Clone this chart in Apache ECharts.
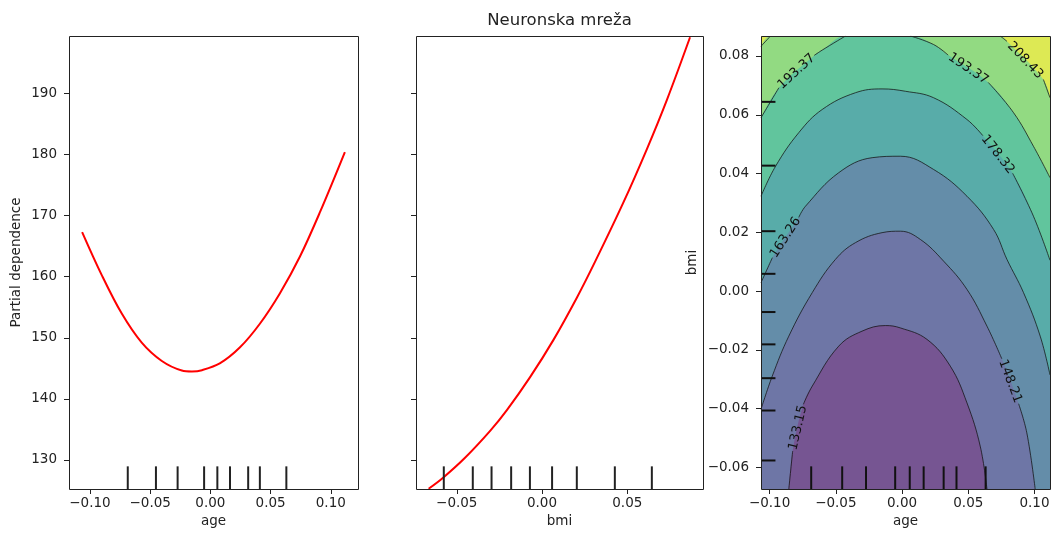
<!DOCTYPE html>
<html><head><meta charset="utf-8">
<script src="https://cdn.jsdelivr.net/npm/echarts@6/dist/echarts.min.js"></script>
<style>html,body{margin:0;padding:0;background:#fff}#c{width:1053px;height:533px}</style>
</head><body><div id="c"></div>
<script>
// ---------------- data ----------------
const ageTicks = [-0.10, -0.05, 0.00, 0.05, 0.10];
const bmiTicks = [-0.05, 0.00, 0.05];
const pdTicks = [130, 140, 150, 160, 170, 180, 190];
const bmiTicks2D = [-0.06, -0.04, -0.02, 0.00, 0.02, 0.04, 0.06, 0.08];

// one-way partial dependence: [age, pd]
const agePD = [[-0.1065,167.3],[-0.0903,160.3],[-0.0737,154.0],[-0.0570,149.2],[-0.0403,146.2],
  [-0.0237,144.65],[-0.0153,144.5],[-0.0070,144.7],[0.0078,145.8],[0.0244,148.4],[0.0411,152.3],
  [0.0578,157.3],[0.0744,163.3],[0.0911,170.6],[0.1117,180.4]];
// one-way partial dependence: [bmi, pd]
const bmiPD = [[-0.0665,125.3],[-0.0580,127.1],[-0.0450,130.4],[-0.0303,134.8],[-0.0205,138.2],
  [-0.0069,143.6],[0.0068,149.7],[0.0205,156.6],[0.0312,162.5],[0.0478,172.2],[0.0615,180.9],
  [0.0733,189.0],[0.0868,199.2]];

const ageDeciles = [-0.0686,-0.0452,-0.0272,-0.0052,0.0058,0.0163,0.0314,0.0411,0.0631];
const bmiDeciles = [-0.0576,-0.0406,-0.0296,-0.0181,-0.0071,0.0059,0.0204,0.0427,0.0644];

// contour levels and contour lines [age, bmi]
const levels = [133.15, 148.21, 163.26, 178.32, 193.37, 208.43];
const c20843L = [[-0.1065,0.0833],[-0.0993,0.0868]];
const c20843R = [[0.0741,0.0868],[0.0792,0.0850],[0.1067,0.0720],[0.1117,0.0658]];
const c19337L = [[-0.1065,0.0590],[-0.0930,0.0692],[-0.0663,0.0802],[-0.0603,0.0820],[-0.0427,0.0868]];
const c19337R = [[0.0063,0.0868],[0.0238,0.0839],[0.0348,0.0803],[0.0651,0.0710],[0.0842,0.0607],[0.0992,0.0493],[0.1117,0.0386]];
const c17832 = [[-0.1065,0.0323],[-0.0955,0.0425],[-0.0780,0.0539],[-0.0603,0.0618],[-0.0352,0.0675],
  [-0.0151,0.0688],[0.0025,0.0680],[0.0238,0.0658],[0.0490,0.0584],[0.0610,0.0529],[0.0835,0.0401],
  [0.0992,0.0255],[0.1117,0.0105]];
const c16326 = [[-0.1065,0.0029],[-0.0979,0.0114],[-0.0780,0.0251],[-0.0729,0.0289],[-0.0478,0.0403],
  [-0.0226,0.0454],[-0.0013,0.0459],[0.0238,0.0414],[0.0490,0.0323],[0.0691,0.0210],[0.0792,0.0108],
  [0.0917,-0.0005],[0.1043,-0.0153],[0.1117,-0.0285]];
const c14821 = [[-0.1065,-0.0402],[-0.0980,-0.0289],[-0.0855,-0.0153],[-0.0678,-0.0005],[-0.0503,0.0108],
  [-0.0352,0.0165],[-0.0151,0.0199],[-0.0013,0.0204],[0.0138,0.0176],[0.0314,0.0102],[0.0490,0.0006],
  [0.0641,-0.0119],[0.0753,-0.0230],[0.0880,-0.0383],[0.0942,-0.0482],[0.1005,-0.0673]];
const c13315 = [[-0.0855,-0.0673],[-0.0826,-0.0544],[-0.0745,-0.0385],[-0.0678,-0.0323],[-0.0478,-0.0187],
  [-0.0302,-0.0136],[-0.0126,-0.0117],[-0.0013,-0.0125],[0.0188,-0.0164],[0.0364,-0.0255],
  [0.0490,-0.0380],[0.0590,-0.0527],[0.0641,-0.0673]];

// ---------------- styling / layout ----------------
const FONT = 'DejaVu Sans';
const TXT = '#222';
const bandColors = ['#765592','#6e76a6','#648da9','#58aca9','#61c59d','#92da82','#dde954'];
const G = [
  {left:69, top:36, width:289, height:453},
  {left:416, top:36, width:287, height:453},
  {left:761, top:36, width:289, height:453}
];
const R1 = {xmin:-0.1174, xmax:0.1226, ymin:125.25, ymax:199.4};
const R2 = {xmin:-0.0739, xmax:0.0944, ymin:125.25, ymax:199.4};
const R3 = {xmin:-0.1065, xmax:0.1117, ymin:-0.0673, ymax:0.0868};
const CSMOOTH = 0.4;

const strokes = [
  {pts:c20843L},
  {pts:c20843R, gap:1, level:5},
  {pts:c19337L, gap:1, level:4},
  {pts:c19337R, gap:2, level:4},
  {pts:c17832, gap:9, level:3},
  {pts:c16326, gap:1, level:2},
  {pts:c14821, gap:12, level:1},
  {pts:c13315, gap:1, level:0}
];
const fills = [
  {pts:c20843L.concat(c20843R), band:5},
  {pts:c19337L.concat(c19337R), band:4},
  {pts:c17832, band:3},
  {pts:c16326, band:2},
  {pts:c14821, band:1},
  {pts:c13315, band:0}
];

function fmt(d){ return v => (v < -1e-9 ? '\u2212' : '') + Math.abs(v).toFixed(d); }
function axis(o){
  const a = {
    type:'value', axisLine:{show:false, onZero:false}, splitLine:{show:false},
    axisTick:{show:true, length:5, inside:false, customValues:o.ticks, lineStyle:{color:TXT, width:1}},
    axisLabel:{show:o.labels !== false, customValues:o.ticks, formatter:o.fmt, margin:o.margin || 7,
      color:TXT, fontSize:13.5, fontFamily:FONT},
    nameLocation:'middle', nameTextStyle:{color:TXT, fontSize:13.5, fontFamily:FONT}
  };
  return Object.assign(a, o.rest);
}

const series = [];
series.push({type:'line', xAxisIndex:0, yAxisIndex:0, data:agePD, smooth:0.35, symbol:'none',
  lineStyle:{color:'#ff0000', width:2}, z:3, clip:true, silent:true});
series.push({type:'line', xAxisIndex:1, yAxisIndex:1, data:bmiPD, smooth:0.35, symbol:'none',
  lineStyle:{color:'#ff0000', width:2}, z:3, clip:true, silent:true});

function rugV(idx, vals, R, color){
  return {type:'custom', xAxisIndex:idx, yAxisIndex:idx, data:vals.map(v => [v, R.ymin]), clip:true, z:11, silent:true,
    renderItem:(p, api) => {
      const x = api.value(0);
      const a = api.coord([x, R.ymin]);
      const b = api.coord([x, R.ymin + 0.05 * (R.ymax - R.ymin)]);
      return {type:'line', shape:{x1:a[0], y1:a[1], x2:b[0], y2:b[1]}, style:{stroke:color, lineWidth:2}};
    }};
}
function rugH(idx, vals, R, color){
  return {type:'custom', xAxisIndex:idx, yAxisIndex:idx, data:vals.map(v => [R.xmin, v]), clip:true, z:11, silent:true,
    renderItem:(p, api) => {
      const y = api.value(1);
      const a = api.coord([R.xmin, y]);
      const b = api.coord([R.xmin + 0.05 * (R.xmax - R.xmin), y]);
      return {type:'line', shape:{x1:a[0], y1:a[1], x2:b[0], y2:b[1]}, style:{stroke:color, lineWidth:2}};
    }};
}
series.push(rugV(0, ageDeciles, R1, '#222'));
series.push(rugV(1, bmiDeciles, R2, '#222'));

fills.forEach((f, i) => {
  series.push({type:'line', xAxisIndex:2, yAxisIndex:2, data:f.pts, smooth:CSMOOTH, symbol:'none',
    lineStyle:{width:0, opacity:0}, areaStyle:{origin:'start', color:bandColors[f.band], opacity:1},
    z:3 + i, clip:true, silent:true});
});
strokes.forEach(s => {
  const segs = (s.gap === undefined) ? [s.pts] : [s.pts.slice(0, s.gap + 1), s.pts.slice(s.gap + 1)];
  segs.forEach(seg => {
    series.push({type:'line', xAxisIndex:2, yAxisIndex:2, data:seg, smooth:CSMOOTH, symbol:'none',
      lineStyle:{color:'#111', width:0.75}, z:10, clip:true, silent:true});
  });
});
const labelled = strokes.filter(s => s.gap !== undefined);
series.push({type:'custom', xAxisIndex:2, yAxisIndex:2, data:labelled.map(() => [R3.xmin, R3.ymin]), z:12, silent:true, clip:false,
  renderItem:(p, api) => {
    const s = labelled[p.dataIndex];
    const a = api.coord(s.pts[s.gap]);
    const b = api.coord(s.pts[s.gap + 1]);
    let ang = Math.atan2(-(b[1] - a[1]), b[0] - a[0]);
    if (ang > Math.PI / 2) ang -= Math.PI;
    if (ang < -Math.PI / 2) ang += Math.PI;
    return {type:'text', x:(a[0] + b[0]) / 2, y:(a[1] + b[1]) / 2, rotation:ang,
      style:{text:levels[s.level].toFixed(2), fill:'#111', fontSize:13, fontFamily:FONT,
        align:'center', verticalAlign:'middle', textAlign:'center', textVerticalAlign:'middle'}};
  }});
series.push(rugV(2, ageDeciles, R3, '#111'));
series.push(rugH(2, bmiDeciles, R3, '#111'));

const option = {
  animation:false,
  backgroundColor:'#fff',
  grid: G.map((g, i) => Object.assign({}, g, {containLabel:false, outerBoundsMode:'none',
    show: i === 2, backgroundColor: i === 2 ? bandColors[6] : 'transparent', borderWidth:0})),
  xAxis: [
    axis({ticks:ageTicks, fmt:fmt(2), margin:7, rest:{gridIndex:0, min:R1.xmin, max:R1.xmax, name:'age', nameGap:25}}),
    axis({ticks:bmiTicks, fmt:fmt(2), margin:7, rest:{gridIndex:1, min:R2.xmin, max:R2.xmax, name:'bmi', nameGap:25}}),
    axis({ticks:ageTicks, fmt:fmt(2), margin:7, rest:{gridIndex:2, min:R3.xmin, max:R3.xmax, name:'age', nameGap:25}})
  ],
  yAxis: [
    axis({ticks:pdTicks, fmt:v => String(Math.round(v)), margin:12,
      rest:{gridIndex:0, min:R1.ymin, max:R1.ymax, name:'Partial dependence', nameGap:46, nameRotate:90}}),
    axis({ticks:pdTicks, labels:false, rest:{gridIndex:1, min:R2.ymin, max:R2.ymax}}),
    axis({ticks:bmiTicks2D, fmt:fmt(2), margin:12,
      rest:{gridIndex:2, min:R3.ymin, max:R3.ymax, name:'bmi', nameGap:62, nameRotate:90}})
  ],
  graphic: G.map(g => ({type:'rect', z:100, silent:true,
      shape:{x:g.left + 0.5, y:g.top + 0.5, width:g.width, height:g.height},
      style:{fill:'none', stroke:TXT, lineWidth:1}}))
    .concat([{type:'text', z:100, x:G[1].left + G[1].width / 2, y:21,
      style:{text:'Neuronska mreža', fill:TXT, fontSize:16.5, fontFamily:FONT,
        align:'center', verticalAlign:'middle', textAlign:'center', textVerticalAlign:'middle'}}]),
  series: series
};
const chart = echarts.init(document.getElementById('c'), null, {renderer:'canvas'});
chart.setOption(option);
</script>
</body></html>
